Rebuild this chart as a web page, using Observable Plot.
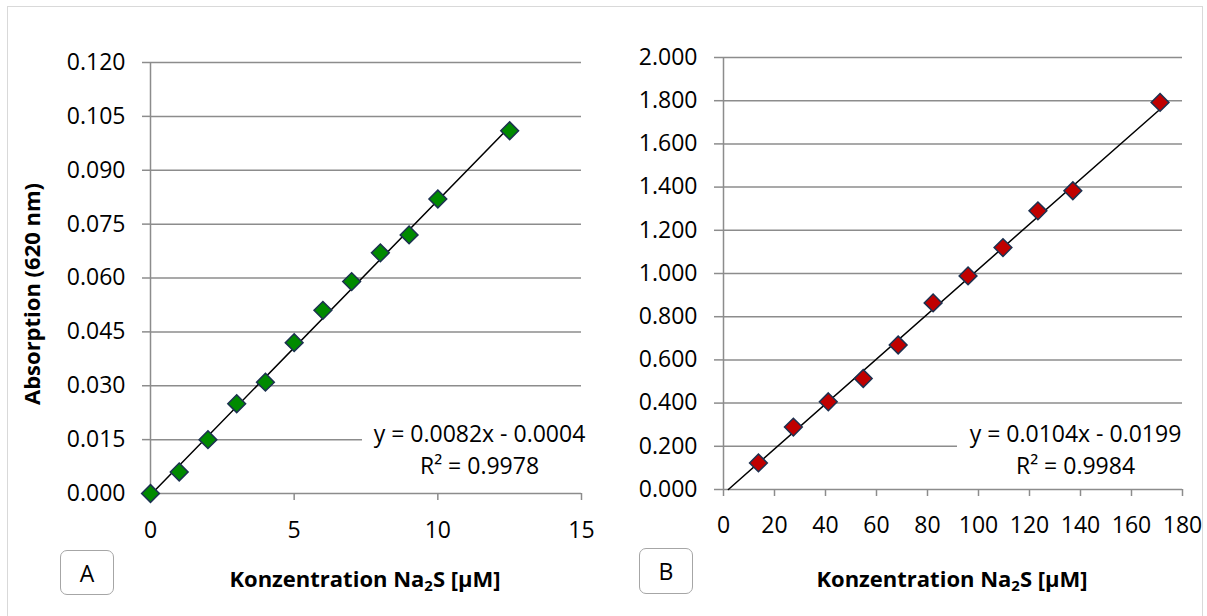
<!DOCTYPE html>
<html>
<head>
<meta charset="utf-8">
<script src="https://cdn.jsdelivr.net/npm/d3@7"></script>
<script src="https://cdn.jsdelivr.net/npm/@observablehq/plot@0.6"></script>
<style>
  html, body { margin: 0; padding: 0; background: #fff; }
  #wrap { position: relative; width: 1207px; height: 616px; overflow: hidden; font-family: 'Open Sans', sans-serif; color: #000; }
  .frame { position: absolute; left: 7px; top: 6px; width: 1196px; height: 640px; border: 1.5px solid #d9d9d9; box-sizing: border-box; }
  .plot { position: absolute; top: 0; }
  .eq { position: absolute; background: #fff; text-align: center; font-size: 23px; line-height: 32px; white-space: nowrap; }
  .tag { position: absolute; border: 1.5px solid #a6a6a6; border-radius: 7px; box-sizing: border-box; font-size: 23px; display: flex; align-items: center; justify-content: center; background: #fff; }
  .xtitle { position: absolute; font-weight: bold; font-size: 22px; white-space: nowrap; transform: translate(-50%, -50%); }
  .ytitle { position: absolute; font-weight: bold; font-size: 22px; white-space: nowrap; transform: translate(-50%, -50%) rotate(-90deg); }
  sub { font-size: 0.68em; vertical-align: -0.28em; line-height: 0; }
</style>
</head>
<body>
<div id="wrap">
  <div class="frame"></div>
</div>
<script>
// ---- Data ----
const concA = [0, 1, 2, 3, 4, 5, 6, 7, 8, 9, 10, 12.5];
const absA  = [0.000, 0.006, 0.015, 0.025, 0.031, 0.042, 0.051, 0.059, 0.067, 0.072, 0.082, 0.101];
const concB = [13.7, 27.4, 41.1, 54.8, 68.5, 82.2, 95.9, 109.6, 123.3, 137.0, 171.2];
const absB  = [0.123, 0.289, 0.406, 0.514, 0.669, 0.864, 0.989, 1.120, 1.290, 1.383, 1.792];

const xTicksA = [0, 5, 10, 15];
const yTicksA = [0, 0.015, 0.030, 0.045, 0.060, 0.075, 0.090, 0.105, 0.120];
const xTicksB = [0, 20, 40, 60, 80, 100, 120, 140, 160, 180];
const yTicksB = [0, 0.2, 0.4, 0.6, 0.8, 1.0, 1.2, 1.4, 1.6, 1.8, 2.0];

// trendline equations as printed on the chart
const slopeA = 0.0082, interceptA = -0.0004, r2A = "0.9978";
const slopeB = 0.0104, interceptB = -0.0199, r2B = "0.9984";

const xTitle = 'Konzentration Na<sub>2</sub>S [µM]';
const yTitle = 'Absorption (620 nm)';
const tags = ["A", "B"];

// ---- Drawing ----
const grid = "#8c8c8c";
const fmtY = d3.format(".3f");

function eqText(m, b) {
  const sign = b < 0 ? "-" : "+";
  return `y = ${m.toFixed(4)}x ${sign} ${Math.abs(b).toFixed(4)}`;
}

function chart(o) {
  const data = o.xs.map((x, i) => ({x, y: o.ys[i]}));
  const x0 = Math.max(o.xTicks[0], -o.b / o.m);
  const x1 = d3.max(o.xs);
  const trend = [x0, x1].map(x => ({x, y: o.m * x + o.b}));
  return Plot.plot({
    width: o.width, height: o.height,
    marginLeft: o.ml, marginRight: o.mr, marginTop: o.mt, marginBottom: o.mb,
    style: {fontFamily: "'Open Sans', sans-serif", fontSize: "23px", color: "#000", background: "transparent", overflow: "visible"},
    x: {domain: [o.xTicks[0], o.xTicks[o.xTicks.length - 1]]},
    y: {domain: [o.yTicks[0], o.yTicks[o.yTicks.length - 1]]},
    marks: [
      Plot.ruleY(o.yTicks, {stroke: grid, strokeWidth: 1.5}),
      Plot.ruleX([o.xTicks[0]], {stroke: grid, strokeWidth: 1.5}),
      Plot.axisY(o.yTicks, {tickSize: o.tsy, tickPadding: 17, tickFormat: fmtY, stroke: grid, strokeWidth: 1.5, fill: "#000", fontSize: 23, label: null}),
      Plot.axisX(o.xTicks, {tickSize: 7, tickPadding: o.tpx, tickFormat: d => String(d), stroke: grid, strokeWidth: 1.5, fill: "#000", fontSize: 23, label: null}),
      Plot.line(trend, {x: "x", y: "y", stroke: "#000", strokeWidth: 1.5}),
      Plot.dot(data, {x: "x", y: "y", symbol: "diamond2", r: 8, fill: o.fill, stroke: "#1c3150", strokeWidth: 1.5})
    ]
  });
}

const wrap = document.getElementById("wrap");

function place(el, left) {
  el.classList.add("plot");
  el.style.left = left + "px";
  wrap.appendChild(el);
}

place(chart({xs: concA, ys: absA, xTicks: xTicksA, yTicks: yTicksA, m: slopeA, b: interceptA,
  fill: "#008a00", width: 600, height: 616, ml: 150, mr: 19, mt: 62, mb: 123, tsy: 8, tpx: 21}), 0);
place(chart({xs: concB, ys: absB, xTicks: xTicksB, yTicks: yTicksB, m: slopeB, b: interceptB,
  fill: "#c00000", width: 607, height: 616, ml: 123, mr: 25, mt: 57, mb: 127, tsy: 9, tpx: 20}), 600);

function addDiv(cls, html, css) {
  const d = document.createElement("div");
  d.className = cls;
  d.innerHTML = html;
  Object.assign(d.style, css);
  wrap.appendChild(d);
  return d;
}

// equation labels
addDiv("eq", `${eqText(slopeA, interceptA)}<br>R² = ${r2A}`, {left: "362px", top: "417px", width: "235px"});
addDiv("eq", `${eqText(slopeB, interceptB)}<br>R² = ${r2B}`, {left: "957px", top: "417px", width: "237px"});

// axis titles
addDiv("ytitle", yTitle, {left: "31px", top: "294px"});
addDiv("xtitle", xTitle, {left: "365px", top: "578px"});
addDiv("xtitle", xTitle, {left: "952px", top: "578px"});

// panel tags
addDiv("tag", tags[0], {left: "60px", top: "550px", width: "54px", height: "45px"});
addDiv("tag", tags[1], {left: "639px", top: "548px", width: "54px", height: "46px"});
</script>
</body>
</html>
